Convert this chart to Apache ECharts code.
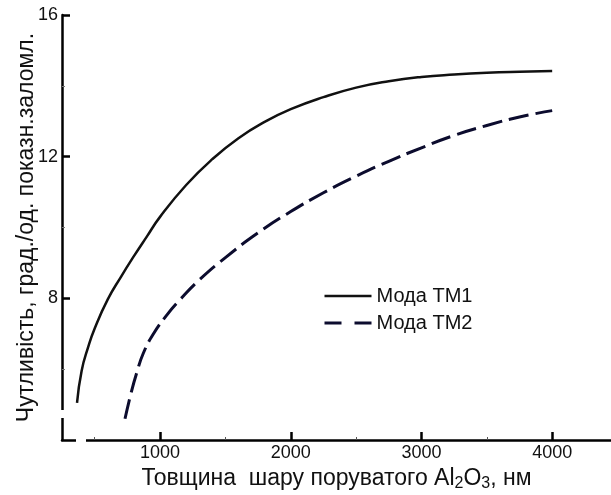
<!DOCTYPE html>
<html>
<head>
<meta charset="utf-8">
<script src="https://cdn.jsdelivr.net/npm/echarts@6/dist/echarts.min.js"></script>
<style>
  html, body { margin: 0; padding: 0; background: #fff; }
  #main { width: 611px; height: 495px; }
</style>
</head>
<body>
<div id="main"></div>
<script>
// дані (товщина, нм ; чутливість)
var tm1Thick = [365, 400, 450, 500, 600, 700, 800, 900, 1000, 1200, 1400, 1600, 1800, 2000, 2250, 2500, 2750, 3000, 3250, 3500, 3750, 4000];
var tm1Sens  = [5.05, 5.95, 6.62, 7.15, 7.97, 8.6, 9.19, 9.75, 10.3, 11.2, 11.93, 12.52, 12.98, 13.34, 13.68, 13.95, 14.13, 14.25, 14.32, 14.37, 14.4, 14.42];

var tm2Thick = [732, 780, 822, 872, 950, 1050, 1150, 1300, 1500, 1750, 2000, 2250, 2500, 2750, 3000, 3250, 3500, 3750, 4000];
var tm2Sens  = [4.6, 5.35, 5.9, 6.45, 7.0, 7.52, 7.95, 8.52, 9.15, 9.85, 10.45, 10.98, 11.45, 11.87, 12.25, 12.6, 12.88, 13.12, 13.3];

var xMajor = [1000, 2000, 3000, 4000];
var xMinor = [500, 1500, 2500, 3500];
var yLabels = [8, 12, 16];

var seriesNames = ['Мода ТМ1', 'Мода ТМ2'];

function pairs(xs, ys) {
  return xs.map(function (x, i) { return [x, ys[i]]; });
}

var myChart = echarts.init(document.getElementById('main'));
var font = '"Liberation Sans", Arial, sans-serif';

var option = {
  backgroundColor: '#fff',
  animation: false,
  textStyle: { fontFamily: font },
  grid: { left: 62, right: 0, top: 15, bottom: 55, outerBoundsMode: 'none' },
  legend: {
    orient: 'vertical',
    left: 318,
    top: 281,
    itemWidth: 47,
    itemHeight: 20,
    itemGap: 7,
    itemStyle: { opacity: 0 },
    textStyle: { fontSize: 20, color: '#111', fontFamily: font },
    data: [
      { name: seriesNames[0], lineStyle: { width: 2.5, type: 'solid' } },
      { name: seriesNames[1], lineStyle: { width: 3, type: [17, 13] } }
    ]
  },
  xAxis: [
    {
      type: 'value',
      min: 250,
      max: 4450,
      name: 'Товщина  шару поруватого Al{sub|2}O{sub|3}, нм',
      nameLocation: 'middle',
      nameGap: 22,
      nameTextStyle: {
        fontSize: 23, color: '#111', fontFamily: font,
        rich: { sub: { fontSize: 16, padding: [11, 0, 0, 0], color: '#111', fontFamily: font } }
      },
      axisLine: { lineStyle: { color: '#000', width: 2.5 } },
      axisTick: { inside: true, length: 8, customValues: xMajor, lineStyle: { width: 2.5, color: '#000' } },
      axisLabel: {
        customValues: xMajor, fontSize: 18, color: '#111', margin: 4,
        formatter: function (v) { return String(v); }
      },
      splitLine: { show: false }
    },
    {
      type: 'value',
      min: 250,
      max: 4450,
      position: 'bottom',
      axisLine: { show: false },
      axisTick: { inside: true, length: 3, customValues: xMinor, lineStyle: { width: 1, color: '#555' } },
      axisLabel: { show: false },
      splitLine: { show: false }
    }
  ],
  yAxis: {
    type: 'value',
    min: 4,
    max: 16,
    interval: 4,
    name: 'Чутливість, град./од. показн.заломл.',
    nameLocation: 'middle',
    nameGap: 24,
    nameMoveOverlap: false,
    nameTextStyle: { fontSize: 23, color: '#111', fontFamily: font },
    axisLine: { lineStyle: { color: '#000', width: 2.5 } },
    axisTick: { inside: true, length: 8, customValues: yLabels, lineStyle: { width: 2.5, color: '#000' } },
    minorTick: { show: true, splitNumber: 2, length: 3, lineStyle: { color: '#777', width: 1 } },
    axisLabel: { customValues: yLabels, fontSize: 18, color: '#111', margin: 4 },
    splitLine: { show: false }
  },
  series: [
    {
      name: seriesNames[0],
      type: 'line',
      smooth: 0.5,
      symbol: 'none',
      data: pairs(tm1Thick, tm1Sens),
      lineStyle: { color: '#111', width: 2.5 },
      itemStyle: { color: '#111' }
    },
    {
      name: seriesNames[1],
      type: 'line',
      smooth: 0.5,
      symbol: 'none',
      data: pairs(tm2Thick, tm2Sens),
      lineStyle: { color: '#0c0c2e', width: 3, type: [20, 7] },
      itemStyle: { color: '#0c0c2e' }
    }
  ],
  // розриви осей
  graphic: [
    { type: 'rect', z: 100, shape: { x: 56, y: 410, width: 12, height: 8 }, style: { fill: '#fff' } },
    { type: 'rect', z: 100, shape: { x: 76, y: 435, width: 10, height: 10 }, style: { fill: '#fff' } }
  ]
};

option && myChart.setOption(option);
</script>
</body>
</html>
